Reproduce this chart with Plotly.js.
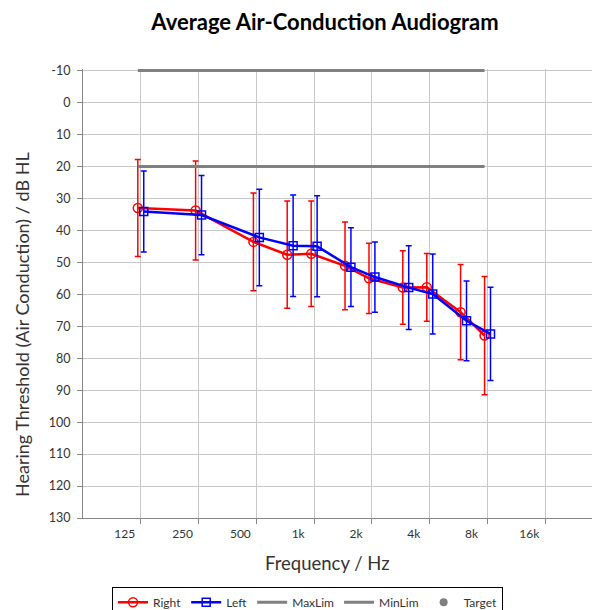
<!DOCTYPE html>
<html>
<head>
<meta charset="utf-8">
<script src="https://cdn.plot.ly/plotly-3.0.1.min.js"></script>
<style>
  html, body { margin: 0; padding: 0; background: #ffffff; }
  #chart { width: 592px; height: 610px; }
</style>
</head>
<body>
<div id="chart"></div>
<script>
// ---- Data ----
const freqs = [125, 250, 500, 750, 1000, 1500, 2000, 3000, 4000, 6000, 8000];
const rightMean = [33.0, 33.8, 43.6, 47.6, 47.3, 51.1, 55.0, 57.9, 57.8, 65.6, 72.9];
const rightSD   = [15.2, 15.5, 15.3, 16.8, 16.5, 13.7, 11.0, 11.5, 10.6, 14.9, 18.5];
const leftMean  = [34.1, 35.2, 42.2, 44.8, 45.0, 51.5, 54.6, 57.9, 59.9, 68.3, 72.4];
const leftSD    = [12.7, 12.4, 15.1, 15.9, 15.8, 12.3, 11.0, 13.1, 12.5, 12.5, 14.6];
const limFreqs  = [125, 8000];
const maxLim    = [-10, -10];
const minLim    = [20, 20];
const targetFreqs = [];
const targetVals  = [];
const xTickVals   = [125, 250, 500, 1000, 2000, 4000, 8000, 16000];
const xTickLabels = ['125', '250', '500', '1k', '2k', '4k', '8k', '16k'];
const yTickVals   = [-10, 0, 10, 20, 30, 40, 50, 60, 70, 80, 90, 100, 110, 120, 130];
const yTickLabels = ['-10', '0', '10', '20', '30', '40', '50', '60', '70', '80', '90', '100', '110', '120', '130'];

// small horizontal offsets so right/left symbols do not overlap
const rightShift = 0.965, leftShift = 1.036;
const shift = (arr, k) => arr.map(v => v * k);

const FONT = 'Lato, "Open Sans", "DejaVu Sans", sans-serif';
const GRAY = '#808080';

const traces = [
  {
    name: 'Right', type: 'scatter', mode: 'lines+markers',
    x: shift(freqs, rightShift), y: rightMean,
    line: { color: '#ff0000', width: 2.5 },
    marker: { symbol: 'circle-open', size: 9, color: '#ff0000', line: { width: 1.5, color: '#ff0000' } },
    error_y: { type: 'data', array: rightSD, visible: true, color: '#ff0000', thickness: 1.5, width: 3 }
  },
  {
    name: 'Left', type: 'scatter', mode: 'lines+markers',
    x: shift(freqs, leftShift), y: leftMean,
    line: { color: '#0000ff', width: 2.5 },
    marker: { symbol: 'square-open', size: 8, color: '#0000ff', line: { width: 1.5, color: '#0000ff' } },
    error_y: { type: 'data', array: leftSD, visible: true, color: '#0000ff', thickness: 1.5, width: 3 }
  },
  {
    name: 'MaxLim', type: 'scatter', mode: 'lines',
    x: shift(limFreqs, rightShift), y: maxLim,
    line: { color: GRAY, width: 3 }
  },
  {
    name: 'MinLim', type: 'scatter', mode: 'lines',
    x: shift(limFreqs, rightShift), y: minLim,
    line: { color: GRAY, width: 3 }
  },
  {
    name: 'Target', type: 'scatter', mode: 'markers',
    x: targetFreqs.length ? targetFreqs : [null], y: targetVals.length ? targetVals : [null],
    marker: { symbol: 'circle', size: 8, color: GRAY }
  }
];

const layout = {
  width: 592, height: 610,
  paper_bgcolor: '#ffffff', plot_bgcolor: '#ffffff',
  font: { family: FONT, color: '#404040', size: 12 },
  margin: { l: 83, r: 0, t: 69.4, b: 92.3, autoexpand: false },
  title: {
    text: '<b>Average Air-Conduction Audiogram</b>',
    font: { family: FONT, size: 22, color: '#000000' },
    xref: 'container', yref: 'container',
    x: 0.549, xanchor: 'center', y: 0.964, yanchor: 'middle'
  },
  xaxis: {
    type: 'log',
    range: [Math.log10(62.5), Math.log10(28000)],
    tickvals: xTickVals, ticktext: xTickLabels,
    ticklabelshift: -16,
    ticks: 'outside', ticklen: 5, tickcolor: '#868686', tickwidth: 1,
    showgrid: true, gridcolor: '#c8c8c8', gridwidth: 1,
    showline: true, linecolor: '#868686', linewidth: 1,
    zeroline: false,
    tickfont: { family: FONT, size: 12, color: '#333333' }
  },
  yaxis: {
    range: [130, -10.5],
    tickvals: yTickVals, ticktext: yTickLabels,
    ticks: 'outside', ticklen: 5, tickcolor: '#868686', tickwidth: 1,
    ticklabelstandoff: 4,
    showgrid: true, gridcolor: '#c8c8c8', gridwidth: 1,
    showline: true, linecolor: '#868686', linewidth: 1,
    zeroline: false,
    tickfont: { family: FONT, size: 12.5, color: '#333333' }
  },
  annotations: [
    {
      text: 'Frequency / Hz', xref: 'paper', yref: 'paper',
      x: (327 - 83) / 509, y: -(563 - 517.7) / 448.3,
      xanchor: 'center', yanchor: 'middle', showarrow: false,
      font: { family: FONT, size: 18.5, color: '#333333' }
    },
    {
      text: 'Hearing Threshold (Air Conduction) / dB HL', xref: 'paper', yref: 'paper',
      x: -(83 - 22) / 509, y: (517.7 - 325) / 448.3, textangle: -90,
      xanchor: 'center', yanchor: 'middle', showarrow: false,
      font: { family: FONT, size: 18, color: '#333333' }
    }
  ],
  showlegend: true,
  legend: {
    orientation: 'h',
    x: 0.057, xanchor: 'left',
    y: -0.153, yanchor: 'top',
    bordercolor: '#000000', borderwidth: 1, bgcolor: '#ffffff',
    font: { family: FONT, size: 12, color: '#333333' },
    traceorder: 'normal'
  }
};

Plotly.newPlot('chart', traces, layout, { displayModeBar: false, staticPlot: true });
</script>
</body>
</html>
